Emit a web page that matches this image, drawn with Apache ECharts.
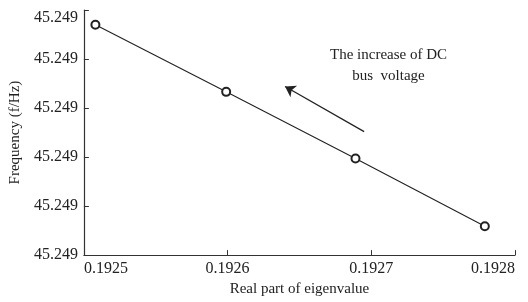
<!DOCTYPE html>
<html>
<head>
<meta charset="utf-8">
<script src="https://cdn.jsdelivr.net/npm/echarts@6/dist/echarts.min.js"></script>
<style>
html,body{margin:0;padding:0;background:#fff;}
#chart{width:528px;height:302px;}
</style>
</head>
<body>
<div id="chart"></div>
<script>
var realPart = [0.192508, 0.192599, 0.192689, 0.192779];      // x: real part of eigenvalue
var frequency = [45.249470, 45.249333, 45.249197, 45.249059]; // y: frequency
var arrowFrom = [0.192695, 45.249252];
var arrowTo = [0.192640, 45.249344];
var noteLines = ['The increase of DC', 'bus  voltage'];

var fontName = '"Liberation Serif", "DejaVu Serif", serif';
var points = [];
for (var i = 0; i < realPart.length; i++) {
    points.push([realPart[i], frequency[i]]);
}

var myChart = echarts.init(document.getElementById('chart'));
var option = {
    animation: false,
    grid: {
        left: 79,
        right: 13,
        top: 10,
        bottom: 46
    },
    xAxis: {
        type: 'value',
        min: 0.1925,
        max: 0.1928,
        interval: 0.0001,
        name: 'Real part of eigenvalue',
        nameLocation: 'middle',
        nameGap: 24,
        nameTextStyle: {color: '#222', fontFamily: fontName, fontSize: 15},
        splitLine: {show: false},
        axisLine: {lineStyle: {color: '#333', width: 1.2}},
        axisTick: {inside: true, length: 5, lineStyle: {color: '#333'}},
        axisLabel: {
            color: '#222',
            fontFamily: fontName,
            fontSize: 16,
            margin: 6,
            alignMinLabel: 'left',
            alignMaxLabel: 'right',
            formatter: function (v) { return v.toFixed(4); }
        }
    },
    yAxis: {
        type: 'value',
        min: 45.2490,
        max: 45.2495,
        interval: 0.0001,
        name: 'Frequency (f/Hz)',
        nameLocation: 'middle',
        nameGap: 58,
        nameTextStyle: {color: '#222', fontFamily: fontName, fontSize: 15},
        splitLine: {show: false},
        axisLine: {lineStyle: {color: '#333', width: 1.2}},
        axisTick: {inside: true, length: 5, lineStyle: {color: '#333'}},
        axisLabel: {
            color: '#222',
            fontFamily: fontName,
            fontSize: 16,
            margin: 6,
            verticalAlignMaxLabel: 'top',
            formatter: function (v) {
                return (Math.floor(v * 1000 + 1e-6) / 1000).toFixed(3);
            }
        }
    },
    graphic: [{
        type: 'text',
        left: 330,
        top: 45,
        style: {
            text: noteLines.join('\n'),
            textAlign: 'center',
            fill: '#222',
            font: '15px ' + fontName,
            lineHeight: 21
        },
        x: 67
    }],
    series: [{
        type: 'line',
        data: points,
        symbol: 'emptyCircle',
        symbolSize: 8,
        lineStyle: {color: '#222', width: 1.1},
        itemStyle: {color: '#222', borderColor: '#222', borderWidth: 1},
        markLine: {
            silent: true,
            symbol: ['none', 'arrow'],
            symbolSize: 10,
            lineStyle: {color: '#222', width: 1.3, type: 'solid'},
            label: {show: false},
            data: [[{coord: arrowFrom}, {coord: arrowTo}]]
        }
    }]
};
myChart.setOption(option);
</script>
</body>
</html>
